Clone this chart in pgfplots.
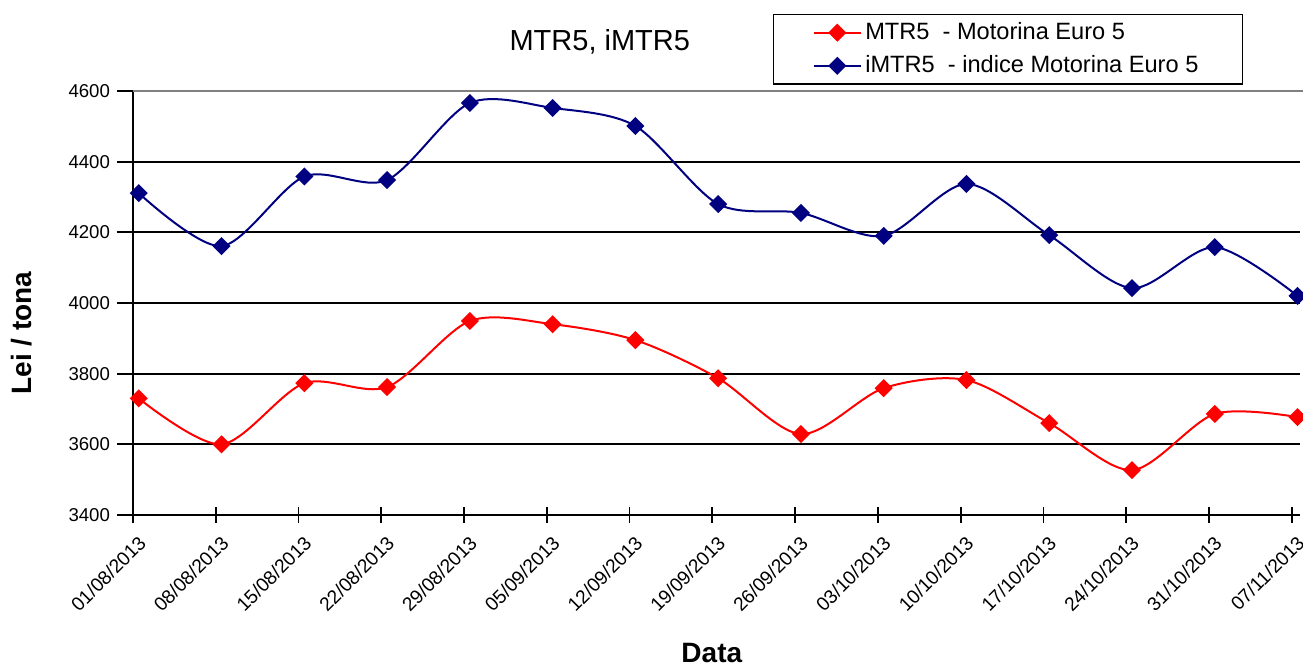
\documentclass[border=0pt]{standalone}
\usepackage{pgfplots}
\pgfplotsset{compat=1.18}
\usepackage{fontspec}
\setmainfont{Liberation Sans}
\definecolor{navyb}{RGB}{0,0,128}
\definecolor{redb}{RGB}{255,0,0}
\begin{document}
\begin{tikzpicture}
\useasboundingbox (-66.5pt,-75.5pt) rectangle (585pt,257.5pt);
\begin{axis}[
  at={(0pt,0pt)}, anchor=south west,
  scale only axis,
  width=583.5pt, height=212pt,
  xmin=0, xmax=14.1,
  ymin=3400, ymax=4600,
  ytick={3400,3600,...,4600},
  xtick={0,...,14},
  xticklabels={01/08/2013,08/08/2013,15/08/2013,22/08/2013,29/08/2013,05/09/2013,12/09/2013,19/09/2013,26/09/2013,03/10/2013,10/10/2013,17/10/2013,24/10/2013,31/10/2013,07/11/2013},
  x tick label style={rotate=45, anchor=north east, font=\fontsize{9.6}{10}\selectfont, inner sep=0.5pt, yshift=-5pt, xshift=-2pt},
  y tick label style={font=\fontsize{9.3}{10}\selectfont},
  /pgf/number format/assume math mode=true,
  /pgf/number format/set thousands separator={},
  axis x line*=bottom, axis y line*=left,
  axis line style={line width=1pt, -},
  tick style={line width=0.9pt, black},
  major tick length=8pt,
  ytick align=outside,
  xtick align=center,
  ymajorgrids,
  grid style={black, line width=1pt},
  clip=false,
  xlabel={\bfseries Data},
  ylabel={\bfseries Lei / tona},
  xlabel style={font=\fontsize{14}{16}\selectfont, at={(axis description cs:0.496,-0.325)}, anchor=center},
  ylabel style={font=\fontsize{14}{16}\selectfont, at={(axis description cs:-0.0951,0.429)}, anchor=center},
  legend style={at={(rel axis cs:0.548,1.182)}, anchor=north west, draw=black, line width=0.8pt, font=\fontsize{11.8}{13}\selectfont, inner xsep=20pt, inner ysep=2pt, row sep=2.5pt, legend cell align=left},
  legend image code/.code={\draw[mark repeat=2,mark phase=2] plot coordinates {(0pt,0pt) (11.5pt,0pt) (23pt,0pt)};},
]
\addplot[redb, line width=1pt, smooth, tension=0.5, mark=square*, mark size=2.7pt, mark options={rotate=45, solid, fill=redb}] coordinates {
(0.07,3730) (1.07,3600) (2.07,3773) (3.07,3762) (4.07,3949) (5.07,3940) (6.07,3895) (7.07,3787) (8.07,3629) (9.07,3759) (10.07,3782) (11.07,3660) (12.07,3527) (13.07,3686) (14.07,3677)};
\addlegendentry{MTR5\ \ - Motorina Euro 5}
\addplot[navyb, line width=1pt, smooth, tension=0.5, mark=square*, mark size=2.7pt, mark options={rotate=45, solid, fill=navyb}] coordinates {
(0.07,4311) (1.07,4161) (2.07,4358) (3.07,4348) (4.07,4566) (5.07,4552) (6.07,4501) (7.07,4280) (8.07,4255) (9.07,4190) (10.07,4337) (11.07,4192) (12.07,4042) (13.07,4158) (14.07,4020)};
\addlegendentry{iMTR5\ \ - indice Motorina Euro 5}
\draw[gray, line width=0.8pt] (rel axis cs:0,1) -- (rel axis cs:1.005,1);
\node[font=\fontsize{14.5}{16}\selectfont] at (rel axis cs:0.400,1.116) {MTR5, iMTR5};
\end{axis}
\end{tikzpicture}
\end{document}
